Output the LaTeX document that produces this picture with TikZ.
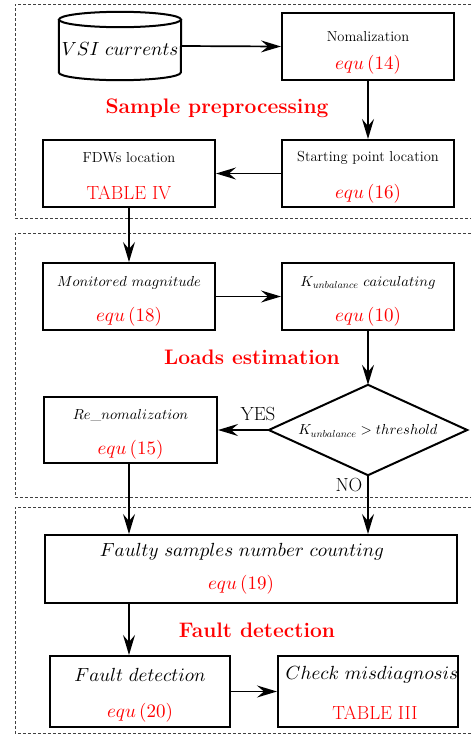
\documentclass[tikz,border=0pt]{standalone}
\DeclareFontShape{OML}{cmm}{m}{it}{<->cmmi10}{}
\DeclareFontShape{OT1}{cmr}{m}{n}{<->cmr10}{}
\DeclareFontShape{OMS}{cmsy}{m}{n}{<->cmsy10}{}
\usetikzlibrary{arrows.meta}
\begin{document}
\begin{tikzpicture}[x=1pt,y=-1pt,
 box/.style={draw, line width=2pt, minimum width=172pt, minimum height=67pt, inner sep=0pt},
 arr/.style={line width=1.7pt, -{Stealth[length=20pt,width=12pt,inset=7pt]}},
 grp/.style={draw=black!75, line width=0.7pt, dash pattern=on 3pt off 2pt},
 sm/.style={font=\fontsize{14.5}{17}\selectfont, inner sep=0pt},
 nm/.style={font=\fontsize{19}{22}\selectfont, inner sep=0pt},
 rd/.style={nm, text=red},
 ttl/.style={font=\fontsize{21}{24}\selectfont\bfseries, text=red, inner sep=0pt},
 cylline/.style={line width=2pt}]
\useasboundingbox (0,0) rectangle (471,737);

% group frames
\draw[grp] (471,4) -- (15,4) -- (15,218) -- (471,218);
\draw[grp] (471,233) -- (15,233) -- (15,497) -- (471,497);
\draw[grp] (471,507) -- (15,507) -- (15,733) -- (471,733);

% cylinder
\node[minimum width=122pt, minimum height=68pt, inner sep=0pt] (cyl) at (120,46) {};
\draw[cylline] ([yshift=-7.7pt]cyl.north) ellipse [x radius=61pt, y radius=7.7pt];
\draw[cylline] ([yshift=-7.7pt]cyl.north west) -- ([yshift=7.7pt]cyl.south west)
  arc[start angle=180, end angle=360, x radius=61pt, y radius=7.7pt] -- ([yshift=-7.7pt]cyl.north east);
\node[nm] (cyltxt) at (120,49) {$VSI\ currents$};

% boxes
\node[box] (nom) at (368,46.5) {};
\node[sm] (nomt) at (368,37) {Nomalization};
\node[rd] (nome) at (368,65) {$equ\,(14)$};

\node[box] (start) at (368,173.5) {};
\node[sm] (startt) at (368,158) {Starting point location};
\node[rd] (starte) at (368,194) {$equ\,(16)$};

\node[box] (fdw) at (129,173.5) {};
\node[sm] (fdwt) at (129,158) {FDWs location};
\node[rd] (fdwe) at (129,193) {TABLE IV};

\node[box] (mon) at (129,296.5) {};
\node[sm] (mont) at (129,283) {$Monitored\ magnitude$};
\node[rd] (mone) at (129,317) {$equ\,(18)$};

\node[box] (kc) at (368,296.5) {};
\node[sm] (kct) at (368,283) {$K_{unbalance}\ caiculating$};
\node[rd] (kce) at (368,317) {$equ\,(10)$};

\node[minimum width=198pt, minimum height=90pt, inner sep=0pt] (dia) at (368,430) {};
\draw[line width=2pt] (dia.north) -- (dia.east) -- (dia.south) -- (dia.west) -- cycle;
\node[sm] (diat) at (368,431) {$K_{unbalance} > threshold$};

\node[box, minimum width=173pt, minimum height=66pt] (ren) at (130.5,430) {};
\node[sm] (rent) at (130.5,415) {$Re\_nomalization$};
\node[rd] (rene) at (130.5,450) {$equ\,(15)$};

\node[nm] (yes) at (258,414) {YES};
\node[nm] (no) at (349,485) {NO};

\node[box, minimum width=412pt, minimum height=68pt] (fsc) at (251,569) {};
\node[nm] (fsct) at (242,552) {$Faulty\ samples\ number\ counting$};
\node[rd] (fsce) at (241,585) {$equ\,(19)$};

\node[box, minimum width=180pt, minimum height=71pt] (fd) at (140,691.5) {};
\node[nm] (fdt) at (140,675) {$Fault\ detection$};
\node[rd] (fde) at (140,713) {$equ\,(20)$};

\node[box, minimum width=180pt, minimum height=71pt] (cm) at (368,691.5) {};
\node[nm] (cmt) at (372,675) {$Check\ misdiagnosis$};
\node[rd] (cme) at (375,713) {TABLE III};

% titles
\node[ttl] (t1) at (217,108) {Sample preprocessing};
\node[ttl] (t2) at (252,357) {Loads estimation};
\node[ttl] (t3) at (257,630) {Fault detection};

% arrows
\draw[arr] (cyl.east) -- (nom.west);
\draw[arr] (nom.south) -- (start.north);
\draw[arr] (start.west) -- (fdw.east);
\draw[arr] (fdw.south) -- (mon.north);
\draw[arr] (mon.east) -- (kc.west);
\draw[arr] (kc.south) -- (dia.north);
\draw[arr] (dia.west) -- (ren.east);
\draw[arr] (ren.south -| fdw) -- (fsc.north -| fdw);
\draw[arr] (dia.south) -- (dia.south |- fsc.north);
\draw[arr] (fsc.south -| mon) -- (fd.north -| mon);
\draw[arr] (fd.east) -- (cm.west);
\end{tikzpicture}
\end{document}
